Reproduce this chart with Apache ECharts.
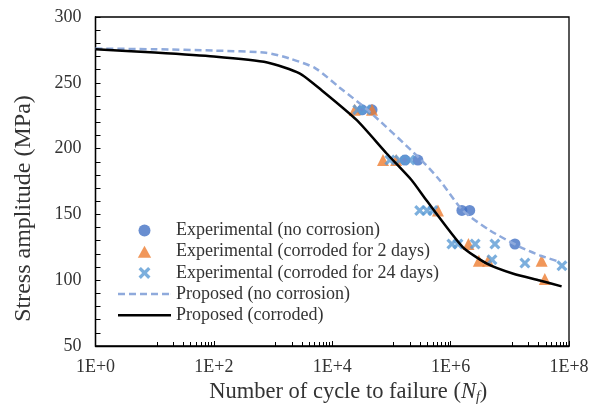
<!DOCTYPE html>
<html><head><meta charset="utf-8">
<script src="https://cdn.jsdelivr.net/npm/echarts@6/dist/echarts.min.js"></script>
<style>html,body{margin:0;padding:0;background:#fff}#c{width:596px;height:407px}</style>
</head><body><div id="c"></div>
<script>
// ---- data (N = cycles to failure, S = stress amplitude MPa) ----
const seriesNames = [
  'Experimental (no corrosion)',
  'Experimental (corroded for 2 days)',
  'Experimental (corroded for 24 days)',
  'Proposed (no corrosion)',
  'Proposed (corroded)'
];
const expNoCorrosion = [
  [3.2e4, 229.5], [4.7e4, 229.5], [1.7e5, 191.25], [2.8e5, 191.25],
  [1.55e6, 153], [2.1e6, 153], [1.22e7, 127.5]
];
const expCorroded2 = [
  [2.4e4, 229.5], [4.7e4, 229.5], [7.2e4, 191.25], [1.2e5, 191.25],
  [6.1e5, 153], [2.0e6, 127.5], [3.0e6, 114.75], [4.3e6, 114.75],
  [3.45e7, 114.75], [3.9e7, 101]
];
const expCorroded24 = [
  [2.7e4, 229.5], [3.7e4, 229.5], [9.4e4, 191.25], [1.38e5, 191.25], [2.05e5, 191.25],
  [3.0e5, 153], [4.0e5, 153], [5.0e5, 153],
  [1.05e6, 127.5], [1.33e6, 127.5], [2.6e6, 127.5], [5.6e6, 127.5],
  [5.0e6, 115.5], [1.8e7, 113], [7.6e7, 111]
];
const proposedNoCorrosion = [
  [1, 276], [10, 275.5], [100, 274.5], [760, 272.8], [1860, 268.6], [5200, 261],
  [1.32e4, 246.5], [4.0e4, 229.2], [3.0e5, 192.5], [6.6e5, 175.8], [1.6e6, 153.1],
  [4.6e6, 137.9], [1.5e7, 125.2], [3.2e7, 118.9], [7.1e7, 113.8]
];
const proposedCorroded = [
  [1, 275.5], [10, 273], [100, 270], [800, 265.5], [2800, 257.2], [6600, 244.4],
  [2.6e4, 221.6], [8.3e4, 196.3], [2.2e5, 176], [3.9e5, 160.7], [1.6e6, 125.2],
  [4.1e6, 112.6], [1.15e7, 104.9], [3.2e7, 99.8], [7.5e7, 95.3]
];
const xMin = 1, xMax = 1e8;
const yMin = 50, yMax = 300, yStep = 50;

// ---- chart ----
const FONT = 'Liberation Serif';
const TXT = '#333';
const crossPath = 'path://M0,2 L2,0 L5,3 L8,0 L10,2 L7,5 L10,8 L8,10 L5,7 L2,10 L0,8 L3,5 Z';
const triPath = 'path://M5,0 L10,9 L0,9 Z';
const dashIcon = 'path://M0,0h7v2.5h-7z M11,0h7v2.5h-7z M22,0h7v2.5h-7z M33,0h7v2.5h-7z M44,0h7v2.5h-7z M52.9,0h0.1v2.5h-0.1z';
const solidIcon = 'path://M0,0h53v2.5h-53z';
const chart = echarts.init(document.getElementById('c'), null, {renderer: 'canvas'});
chart.setOption({
  animation: false,
  backgroundColor: '#fff',
  textStyle: {fontFamily: FONT},
  grid: {left: 95.5, right: 27, top: 17, bottom: 61, outerBoundsMode: 'none', containLabel: false,
         show: true, borderColor: '#000', borderWidth: 1.3, backgroundColor: 'transparent'},
  legend: {
    orient: 'vertical', left: 118, top: 221.5, padding: 0,
    itemWidth: 53, itemHeight: 12, itemGap: 3.2,
    textStyle: {fontFamily: FONT, fontSize: 18, color: TXT},
    data: [
      {name: seriesNames[0], icon: 'circle'},
      {name: seriesNames[1], icon: triPath},
      {name: seriesNames[2], icon: crossPath},
      {name: seriesNames[3], icon: dashIcon},
      {name: seriesNames[4], icon: solidIcon}
    ]
  },
  xAxis: {
    type: 'log', logBase: 100, min: xMin, max: xMax,
    name: 'Number of cycle to failure ({i|N}{s|f})',
    nameLocation: 'middle', nameGap: 34,
    nameTextStyle: {fontFamily: FONT, fontSize: 22.5, color: TXT, padding: [0, 0, 0, 32], rich: {
      i: {fontFamily: FONT, fontSize: 22.5, fontStyle: 'italic', color: TXT},
      s: {fontFamily: FONT, fontSize: 14, fontStyle: 'italic', color: TXT, verticalAlign: 'bottom', padding: [9, 0, 0, 0]}
    }},
    axisLine: {lineStyle: {color: '#000', width: 1.3}},
    axisTick: {inside: true, length: 5, lineStyle: {color: '#000'}},
    minorTick: {show: true, splitNumber: 10, length: 4, lineStyle: {color: '#000'}},
    splitLine: {show: false},
    axisLabel: {fontFamily: FONT, fontSize: 18, color: TXT, margin: 12,
      formatter: v => '1E+' + Math.round(Math.log10(v))}
  },
  yAxis: {
    type: 'value', min: yMin, max: yMax, interval: yStep,
    name: 'Stress amplitude (MPa)', nameLocation: 'middle', nameGap: 60,
    nameTextStyle: {fontFamily: FONT, fontSize: 24, color: TXT, padding: [0, 54, 0, 0]},
    axisLine: {show: true, lineStyle: {color: '#000', width: 1.3}},
    axisTick: {show: true, inside: true, length: 5, lineStyle: {color: '#000'}},
    minorTick: {show: true, splitNumber: 5, length: 5, lineStyle: {color: '#000'}},
    splitLine: {show: false},
    axisLabel: {fontFamily: FONT, fontSize: 18, color: TXT, margin: 14}
  },
  series: [
    {name: seriesNames[0], type: 'scatter', data: expNoCorrosion, symbol: 'circle', symbolSize: 11,
     itemStyle: {color: '#4472C4'}},
    {name: seriesNames[1], type: 'scatter', data: expCorroded2, symbol: 'triangle', symbolSize: 12,
     itemStyle: {color: '#ED7D31'}},
    {name: seriesNames[2], type: 'scatter', data: expCorroded24, symbol: crossPath, symbolSize: 11,
     itemStyle: {color: '#5B9BD5'}},
    {name: seriesNames[3], type: 'line', data: proposedNoCorrosion, symbol: 'none', smooth: 0.25,
     lineStyle: {color: '#8FAADC', width: 2.5, type: [7, 4]}, itemStyle: {color: '#8FAADC'}},
    {name: seriesNames[4], type: 'line', data: proposedCorroded, symbol: 'none', smooth: 0.2,
     lineStyle: {color: '#000', width: 2.5}, itemStyle: {color: '#000'}}
  ]
});
</script></body></html>
